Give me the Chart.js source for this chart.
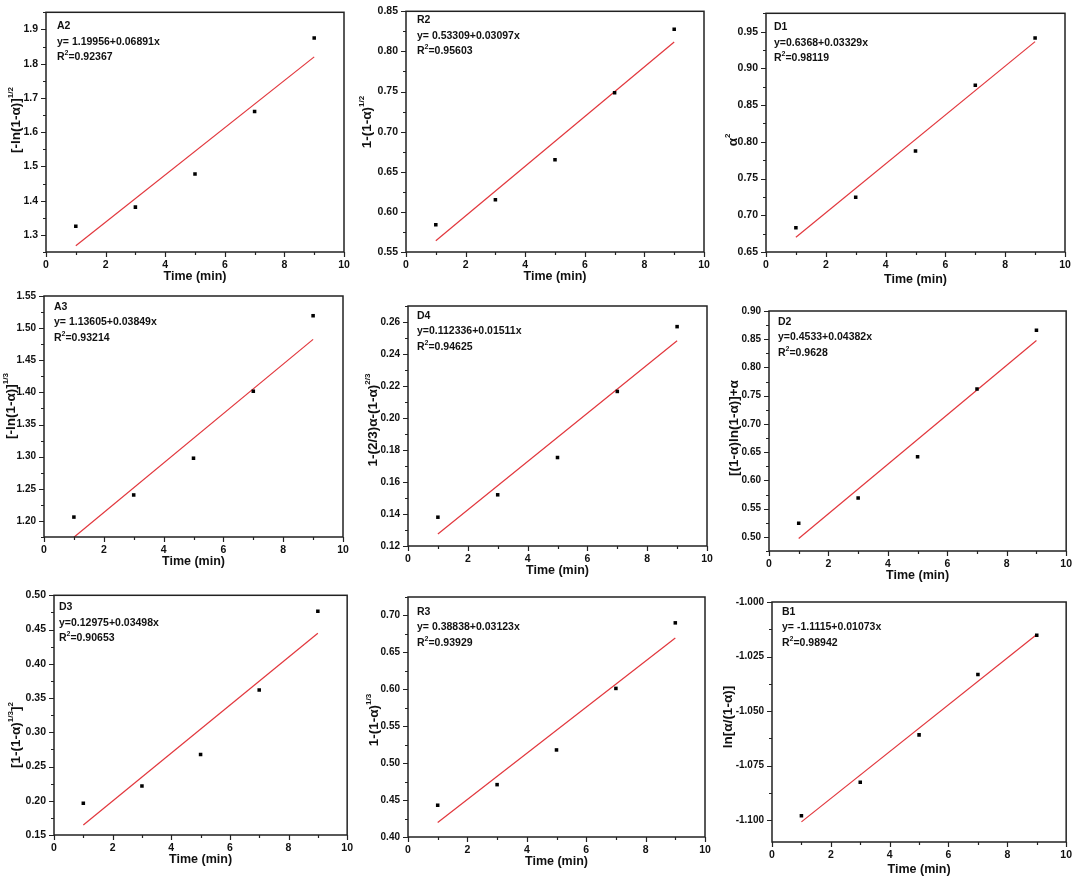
<!DOCTYPE html>
<html><head><meta charset="utf-8">
<script src="https://cdn.jsdelivr.net/npm/chart.js@4.4.1/dist/chart.umd.min.js"></script>
<style>
html,body{margin:0;padding:0;background:#fff;width:1079px;height:877px;overflow:hidden;}
canvas{position:absolute;}
</style></head><body>
<script>
// ---------- DATA ----------
const timeMin = [1, 3, 5, 7, 9];
const xTickLabels = ['0', '2', '4', '6', '8', '10'];

const panelNames = ['A2', 'R2', 'D1', 'A3', 'D4', 'D2', 'D3', 'R3', 'B1'];
const equations = ['y= 1.19956+0.06891x', 'y= 0.53309+0.03097x', 'y=0.6368+0.03329x',
  'y= 1.13605+0.03849x', 'y=0.112336+0.01511x', 'y=0.4533+0.04382x',
  'y=0.12975+0.03498x', 'y= 0.38838+0.03123x', 'y= -1.1115+0.01073x'];
const rSquared = ['0.92367', '0.95603', '0.98119', '0.93214', '0.94625', '0.9628', '0.90653', '0.93929', '0.98942'];

const a2Values = [1.325, 1.381, 1.478, 1.660, 1.875];
const r2Values = [0.584, 0.615, 0.665, 0.7485, 0.8275];
const d1Values = [0.683, 0.7246, 0.7875, 0.877, 0.9415];
const a3Values = [1.206, 1.2404, 1.2976, 1.4018, 1.5193];
const d4Values = [0.138, 0.152, 0.1753, 0.2166, 0.2571];
const d2Values = [0.5243, 0.569, 0.642, 0.762, 0.8658];
const d3Values = [0.1963, 0.2216, 0.2675, 0.3616, 0.4766];
const r3Values = [0.443, 0.4709, 0.5179, 0.6012, 0.690];
const b1Values = [-1.098, -1.0826, -1.0609, -1.0332, -1.0152];

// fitted line values at t = 1 and t = 9 (from the printed equations)
const fitTimes = [1, 9];
const a2Fit = [1.26847, 1.81975];
const r2Fit = [0.56406, 0.81182];
const d1Fit = [0.67009, 0.93641];
const a3Fit = [1.17454, 1.48246];
const d4Fit = [0.127446, 0.248326];
const d2Fit = [0.49712, 0.84768];
const d3Fit = [0.16473, 0.44457];
const r3Fit = [0.41961, 0.66945];
const b1Fit = [-1.10077, -1.01493];

const a2Ticks = ['1.3', '1.4', '1.5', '1.6', '1.7', '1.8', '1.9'];
const r2Ticks = ['0.55', '0.60', '0.65', '0.70', '0.75', '0.80', '0.85'];
const d1Ticks = ['0.65', '0.70', '0.75', '0.80', '0.85', '0.90', '0.95'];
const a3Ticks = ['1.20', '1.25', '1.30', '1.35', '1.40', '1.45', '1.50', '1.55'];
const d4Ticks = ['0.12', '0.14', '0.16', '0.18', '0.20', '0.22', '0.24', '0.26'];
const d2Ticks = ['0.50', '0.55', '0.60', '0.65', '0.70', '0.75', '0.80', '0.85', '0.90'];
const d3Ticks = ['0.15', '0.20', '0.25', '0.30', '0.35', '0.40', '0.45', '0.50'];
const r3Ticks = ['0.40', '0.45', '0.50', '0.55', '0.60', '0.65', '0.70'];
const b1Ticks = ['-1.100', '-1.075', '-1.050', '-1.025', '-1.000'];

const yMins = [1.25, 0.55, 0.65, 1.175, 0.12, 0.475, 0.15, 0.40, -1.11];
const yMaxs = [1.95, 0.85, 0.975, 1.55, 0.27, 0.90, 0.50, 0.725, -1.00];

// y-axis titles: [text, isSuperscript]
const yTitles = [
  [['[-ln(1-α)]'], ['1/2', 1]],
  [['1-(1-α)'], ['1/2', 1]],
  [['α'], ['2', 1]],
  [['[-ln(1-α)]'], ['1/3', 1]],
  [['1-(2/3)α-(1-α)'], ['2/3', 1]],
  [['[(1-α)ln(1-α)]+α']],
  [['[1-(1-α)'], ['1/3', 1], [']'], ['2', 1]],
  [['1-(1-α)'], ['1/3', 1]],
  [['ln[α/(1-α)]']]
];
const xTitle = 'Time (min)';

const seriesValues = [a2Values, r2Values, d1Values, a3Values, d4Values, d2Values, d3Values, r3Values, b1Values];
const fitValues = [a2Fit, r2Fit, d1Fit, a3Fit, d4Fit, d2Fit, d3Fit, r3Fit, b1Fit];
const tickLists = [a2Ticks, r2Ticks, d1Ticks, a3Ticks, d4Ticks, d2Ticks, d3Ticks, r3Ticks, b1Ticks];

// ---------- LAYOUT ----------
const plotRects = [ // left, top, right, bottom
  [46, 8, 344, 252], [406, 7, 704, 252], [766, 9, 1065, 252],
  [44, 292, 343, 537], [408, 302, 707, 546], [769, 307, 1068, 551],
  [54, 591, 352, 835], [408, 593, 705, 837], [772, 598, 1071, 842]
];
const cellLeft = [0, 352, 712, 0, 352, 712, 0, 352, 712];
const cellRight = [360, 720, 1079, 360, 720, 1079, 360, 720, 1079];
const yTitleX = [16, 367, 733, 11, 373, 734, 16, 374, 728];
const yTitleY = [120, 122, 140, 406, 420, 428, 735, 720, 717];
const yTickSize = [10.5, 10.5, 10.5, 10, 10, 10, 10.5, 10, 10];
const noteDX = [11, 11, 8, 10, 9, 9, 5, 9, 10];
const noteDY = [14, 9, 14, 11, 10, 11, 12, 15, 10];
const xTitleDY = [25, 25, 28, 25, 25, 25, 25, 25, 28];

const FONT = "'Liberation Sans', Arial, Helvetica, sans-serif";
const INK = '#111';
const PAD_TOP = 10, X_H = 40;

function richWidth(ctx, parts, size) {
  let w = 0;
  for (const p of parts) {
    ctx.font = 'bold ' + (p[1] ? Math.round(size * 0.62) : size) + 'px ' + FONT;
    w += ctx.measureText(p[0]).width;
  }
  return w;
}
function drawRich(ctx, parts, x, y, size, align) {
  const w = richWidth(ctx, parts, size);
  let cx = align === 'center' ? x - w / 2 : x;
  ctx.textBaseline = 'middle';
  ctx.textAlign = 'left';
  for (const p of parts) {
    const s = p[1] ? Math.round(size * 0.62) : size;
    ctx.font = 'bold ' + s + 'px ' + FONT;
    ctx.fillText(p[0], cx, p[1] ? y - size * 0.42 : y);
    cx += ctx.measureText(p[0]).width;
  }
}

function makeDecor(i, offX, offY) {
  return {
    id: 'decor' + i,
    afterDraw(chart) {
      const ctx = chart.ctx, a = chart.chartArea;
      const xs = chart.scales.x, ys = chart.scales.y;
      ctx.save();
      ctx.strokeStyle = '#222';
      ctx.lineWidth = 1.5;
      ctx.strokeRect(a.left, a.top, a.right - a.left, a.bottom - a.top);
      ctx.lineWidth = 1.2;
      ctx.beginPath();
      for (let v = 0; v <= 10; v += 1) {
        const px = Math.round(xs.getPixelForValue(v)) + 0.5;
        const len = v % 2 === 0 ? 5 : 3;
        ctx.moveTo(px, a.bottom); ctx.lineTo(px, a.bottom + len);
      }
      const tl = tickLists[i].map(Number);
      const step = tl[1] - tl[0];
      const mn = yMins[i], mx = yMaxs[i];
      for (let k = -4; k < tl.length * 2 + 4; k++) {
        const v = tl[0] + k * step / 2;
        if (v < mn - 1e-9 || v > mx + 1e-9) continue;
        const py = Math.round(ys.getPixelForValue(v)) + 0.5;
        const len = k % 2 === 0 ? 5 : 3;
        ctx.moveTo(a.left, py); ctx.lineTo(a.left - len, py);
      }
      ctx.stroke();

      ctx.fillStyle = INK;
      const nx = a.left + noteDX[i], ny = a.top + noteDY[i];
      drawRich(ctx, [[panelNames[i]]], nx, ny, 10.5, 'left');
      drawRich(ctx, [[equations[i]]], nx, ny + 15.5, 10.5, 'left');
      drawRich(ctx, [['R'], ['2', 1], ['=' + rSquared[i]]], nx, ny + 31, 10.5, 'left');
      drawRich(ctx, [[xTitle]], (a.left + a.right) / 2, a.bottom + xTitleDY[i], 12.5, 'center');
      ctx.translate(yTitleX[i] - offX, yTitleY[i] - offY);
      ctx.rotate(-Math.PI / 2);
      drawRich(ctx, yTitles[i], 0, 0, 13.5, 'center');
      ctx.restore();
    }
  };
}

for (let i = 0; i < 9; i++) {
  const [L, T, R, B] = plotRects[i];
  const cl = cellLeft[i], cr = cellRight[i];
  const top = T - PAD_TOP;
  const cv = document.createElement('canvas');
  const w = cr - cl, h = (B - T) + PAD_TOP + X_H;
  cv.width = w; cv.height = h;
  cv.style.left = cl + 'px'; cv.style.top = top + 'px';
  cv.style.width = w + 'px'; cv.style.height = h + 'px';
  document.body.appendChild(cv);
  const ticks = tickLists[i];
  new Chart(cv, {
    type: 'scatter',
    data: {
      datasets: [
        {
          data: timeMin.map((t, k) => ({ x: t, y: seriesValues[i][k] })),
          pointStyle: 'rect', pointRadius: 2.5, backgroundColor: '#000', borderWidth: 0,
          showLine: false
        },
        {
          data: fitTimes.map((t, k) => ({ x: t, y: fitValues[i][k] })),
          showLine: true, borderColor: '#e2373d', borderWidth: 1.2, pointRadius: 0, fill: false
        }
      ]
    },
    options: {
      responsive: false, animation: false, events: [],
      devicePixelRatio: 1,
      layout: { padding: { top: PAD_TOP, right: cr - R, left: 0, bottom: 0 }, autoPadding: false },
      plugins: { legend: { display: false }, tooltip: { enabled: false } },
      scales: {
        x: {
          type: 'linear', min: 0, max: 10,
          grid: { display: false, drawTicks: false, tickLength: 0 }, border: { display: false },
          afterBuildTicks: s => { s.ticks = xTickLabels.map(t => ({ value: Number(t) })); },
          afterFit: s => { s.height = X_H; },
          ticks: {
            padding: 7, color: INK, maxRotation: 0, autoSkip: false,
            font: { family: FONT, size: 10.5, weight: 'bold' },
            callback: v => { const f = xTickLabels.find(t => Number(t) === v); return f === undefined ? '' : f; }
          }
        },
        y: {
          type: 'linear', min: yMins[i], max: yMaxs[i],
          grid: { display: false, drawTicks: false, tickLength: 0 }, border: { display: false },
          afterBuildTicks: s => { s.ticks = ticks.map(t => ({ value: Number(t) })); },
          afterFit: s => { s.width = L - cl; },
          ticks: {
            padding: 8, color: INK, autoSkip: false,
            font: { family: FONT, size: yTickSize[i], weight: 'bold' },
            callback: v => { const f = ticks.find(t => Math.abs(Number(t) - v) < 1e-9); return f === undefined ? '' : f; }
          }
        }
      }
    },
    plugins: [makeDecor(i, cl, top)]
  });
}
</script>
</body></html>
